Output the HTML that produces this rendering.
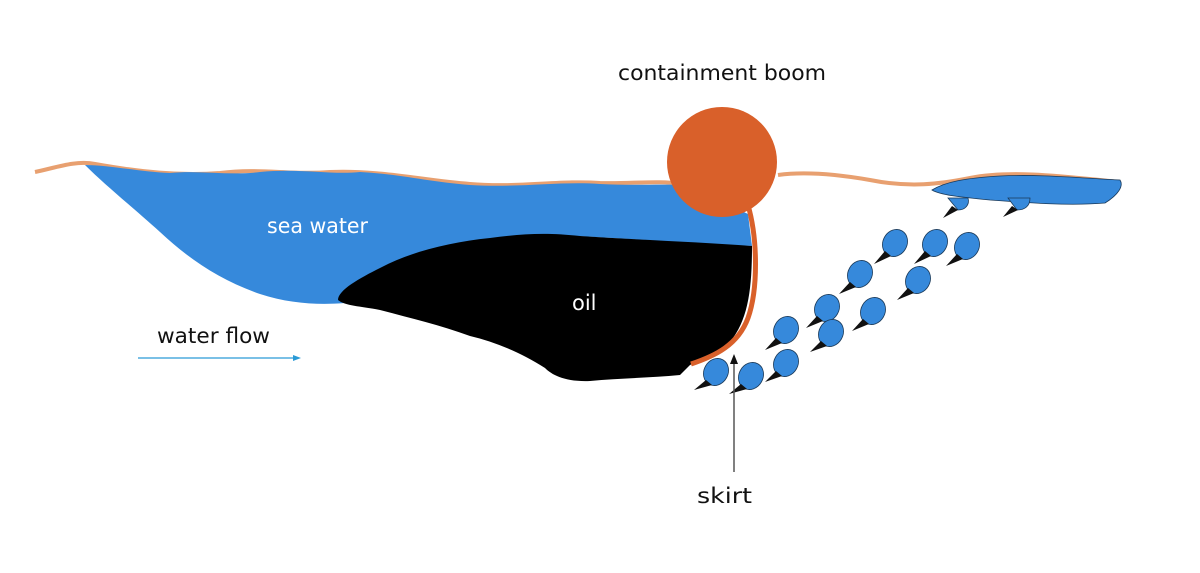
<!DOCTYPE html>
<html><head><style>html,body{margin:0;padding:0;background:#fff;}svg{display:block}</style></head>
<body>
<svg width="1200" height="573" viewBox="0 0 1200 573" xmlns="http://www.w3.org/2000/svg" font-family="'DejaVu Sans', 'Liberation Sans', sans-serif">
<rect width="1200" height="573" fill="#fff"/>
<path d="M35,172 C55,168 75,160 95,164 C140,172 180,176 220,173 C260,168 290,175 330,172 C380,170 420,180 470,184 C520,188 560,180 600,183 C630,184 660,180 680,184" fill="none" stroke="#e8a070" stroke-width="4"/>
<path d="M778,175 C800,172 830,173 870,180 C910,188 940,184 970,178 C1010,170 1060,176 1120,182" fill="none" stroke="#e8a070" stroke-width="4"/>
<path d="M85,165 C110,165 140,172 170,173 C200,170 230,176 260,172 C300,168 330,175 360,172 C400,174 430,182 470,185 C520,188 560,181 600,184 C640,186 670,183 690,186 L748,214 L752,246 C700,244 620,238 540,234 C480,238 420,252 370,276 C350,286 340,296 345,303 C320,305 290,304 260,294 C220,280 190,260 160,232 C130,205 105,185 85,165 Z" fill="#3689db"/>
<path d="M752,246 C752,290 748,320 730,342 C715,356 700,360 690,365 L680,375 C650,378 620,378 590,381 C565,382 552,375 545,368 C520,352 495,342 470,336 C440,325 410,318 380,310 C360,306 345,306 338,300 C338,290 360,278 380,268 C410,252 450,242 490,238 C520,234 545,232 580,236 C640,240 700,242 752,246 Z" fill="#000"/>
<path d="M748,205 C758,240 758,290 748,318 C738,345 715,356 691,364" fill="none" stroke="#d9602a" stroke-width="5"/>
<circle cx="722" cy="162" r="55" fill="#d9602a"/>
<path d="M932,190 C945,182 965,178 1000,176 C1040,174 1080,178 1120,180 C1124,186 1118,195 1105,203 C1070,206 1030,203 990,200 C960,197 940,195 932,190 Z" fill="#3689db" stroke="#1a3a5a" stroke-width="0.8"/>
<g fill="#3689db" stroke="#1a3a5a" stroke-width="0.8">
<path d="M948,198 L968,198 C970,205 965,210 958,210 Z"/>
<path d="M1008,198 L1030,198 C1030,206 1025,210 1017,210 Z"/>
</g>
<g fill="#111"><path d="M952,206 L958,210 L943,218 Z"/><path d="M1012,206 L1018,210 L1003,217 Z"/></g>
<g fill="#3689db" stroke="#1a3a5a" stroke-width="0.8">
<ellipse cx="895" cy="243" rx="12" ry="14" transform="rotate(30 895 243)"/>
<ellipse cx="935" cy="243" rx="12" ry="14" transform="rotate(30 935 243)"/>
<ellipse cx="967" cy="246" rx="12" ry="14" transform="rotate(30 967 246)"/>
<ellipse cx="860" cy="274" rx="12" ry="14" transform="rotate(30 860 274)"/>
<ellipse cx="918" cy="280" rx="12" ry="14" transform="rotate(30 918 280)"/>
<ellipse cx="827" cy="308" rx="12" ry="14" transform="rotate(30 827 308)"/>
<ellipse cx="873" cy="311" rx="12" ry="14" transform="rotate(30 873 311)"/>
<ellipse cx="786" cy="330" rx="12" ry="14" transform="rotate(30 786 330)"/>
<ellipse cx="831" cy="333" rx="12" ry="14" transform="rotate(30 831 333)"/>
<ellipse cx="716" cy="372" rx="12" ry="14" transform="rotate(30 716 372)"/>
<ellipse cx="751" cy="376" rx="12" ry="14" transform="rotate(30 751 376)"/>
<ellipse cx="786" cy="363" rx="12" ry="14" transform="rotate(30 786 363)"/>
</g>
<g fill="#111">
<path d="M885,251 L891,256 L874,264 Z"/>
<path d="M925,251 L931,256 L914,264 Z"/>
<path d="M957,254 L963,259 L946,266 Z"/>
<path d="M850,282 L856,287 L839,294 Z"/>
<path d="M908,288 L914,293 L897,300 Z"/>
<path d="M817,316 L823,321 L806,328 Z"/>
<path d="M863,319 L869,324 L852,331 Z"/>
<path d="M776,338 L782,343 L765,350 Z"/>
<path d="M821,341 L827,346 L810,352 Z"/>
<path d="M706,380 L712,385 L694,390 Z"/>
<path d="M741,384 L747,389 L729,394 Z"/>
<path d="M776,371 L782,376 L765,382 Z"/>
</g>
<line x1="734" y1="472" x2="734" y2="362" stroke="#555" stroke-width="1.5"/>
<path d="M730,364 L734,354 L738,364 Z" fill="#111"/>
<line x1="138" y1="358" x2="294" y2="358" stroke="#2a9ad6" stroke-width="1.3"/>
<path d="M293,355 L301,358 L293,361 Z" fill="#2a9ad6"/>
<text x="618" y="80" font-size="21" fill="#111" textLength="208" lengthAdjust="spacingAndGlyphs">containment boom</text>
<text x="267" y="233" font-size="21" fill="#fff" textLength="101" lengthAdjust="spacingAndGlyphs">sea water</text>
<text x="572" y="310" font-size="21" fill="#fff">oil</text>
<text x="157" y="343" font-size="21" fill="#111" textLength="113" lengthAdjust="spacingAndGlyphs">water flow</text>
<text x="697" y="503" font-size="21" fill="#111" textLength="55" lengthAdjust="spacingAndGlyphs">skirt</text>
</svg>
</body></html>
